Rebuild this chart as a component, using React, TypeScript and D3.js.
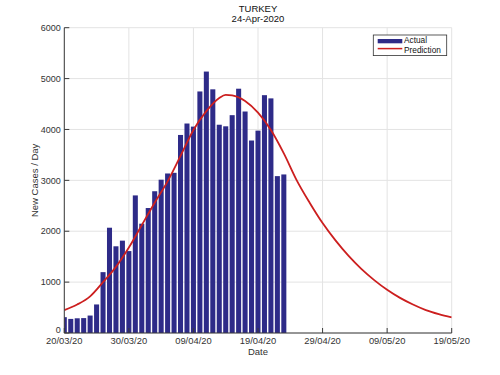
import React from "react";
import * as d3 from "d3";

const startDate = new Date(2020, 2, 20);
const actualValues = [
  311, 277, 289, 293, 343, 561, 1196, 2069, 1704, 1815, 1610, 2704, 2148, 2456,
  2786, 3013, 3135, 3148, 3892, 4117, 4056, 4747, 5138, 4789, 4093, 4062, 4281,
  4801, 4353, 3783, 3977, 4674, 4611, 3083, 3116,
];
const predictionDays = [0, 2, 4, 6, 8, 10, 12, 14, 16, 18, 20, 22, 24, 25, 26, 28, 30, 32, 34, 36, 38, 40, 42, 44, 46, 48, 50, 52, 54, 56, 58, 60];
const predictionValues = [450, 560, 720, 1000, 1300, 1680, 2120, 2560, 2980, 3480, 3990, 4360, 4620, 4680, 4670, 4560, 4330, 3990, 3530, 3000, 2560, 2160, 1820, 1520, 1260, 1040, 850, 690, 560, 450, 370, 305];
const xTickLabels = ["20/03/20", "30/03/20", "09/04/20", "19/04/20", "29/04/20", "09/05/20", "19/05/20"];
const yTicks = [0, 1000, 2000, 3000, 4000, 5000, 6000];

const dayMs = 86400000;
const addDays = (n: number) => new Date(startDate.getTime() + n * dayMs);

export default function App() {
  const W = 500, H = 375;
  const left = 64.3, right = 451.7, top = 27.7, bottom = 333;
  const x = d3.scaleTime().domain([addDays(0), addDays(60)]).range([left, right]);
  const y = d3.scaleLinear().domain([0, 6000]).range([bottom, top]);
  const dayW = x(addDays(1)) - x(addDays(0));
  const barW = dayW * 0.78;
  const font = "'Liberation Sans', Arial, sans-serif";
  const line = d3
    .line<number>()
    .x((_, i) => x(addDays(predictionDays[i])))
    .y((v) => y(v))
    .curve(d3.curveMonotoneX);
  const xTicks = xTickLabels.map((_, i) => addDays(i * 10));
  const cx = (left + right) / 2;

  return (
    <svg width={W} height={H} style={{ position: "absolute", left: 0, top: 0, background: "#fff" }} fontFamily={font}>
      <rect x={0} y={0} width={W} height={H} fill="#fff" />
      {xTicks.map((d, i) => (
        <line key={"gx" + i} x1={x(d)} x2={x(d)} y1={top} y2={bottom} stroke="#e3e3e3" strokeWidth={1} />
      ))}
      {yTicks.map((v) => (
        <line key={"gy" + v} x1={left} x2={right} y1={y(v)} y2={y(v)} stroke="#e3e3e3" strokeWidth={1} />
      ))}
      <defs>
        <clipPath id="plot">
          <rect x={left} y={top} width={right - left} height={bottom - top} />
        </clipPath>
      </defs>
      <g clipPath="url(#plot)">
        {actualValues.map((v, i) => (
          <rect
            key={"b" + i}
            x={x(addDays(i)) - barW / 2}
            y={y(v)}
            width={barW}
            height={bottom - y(v)}
            fill="#2E2B88"
          />
        ))}
        <path d={line(predictionValues) || ""} fill="none" stroke="#CC1F1F" strokeWidth={1.8} />
      </g>
      <line x1={left} x2={left} y1={top} y2={bottom} stroke="#3a3a3a" strokeWidth={1} />
      <line x1={left} x2={right} y1={bottom} y2={bottom} stroke="#3a3a3a" strokeWidth={1} />
      {yTicks.map((v) => (
        <g key={"yt" + v}>
          <line x1={left} x2={left + 5} y1={y(v)} y2={y(v)} stroke="#3a3a3a" />
          <text x={left - 3.5} y={v === 0 ? bottom - 0.5 : y(v) + 3.2} textAnchor="end" fontSize={9} fill="#333">
            {v}
          </text>
        </g>
      ))}
      {xTicks.map((d, i) => (
        <g key={"xt" + i}>
          <line x1={x(d)} x2={x(d)} y1={bottom} y2={bottom - 5} stroke="#3a3a3a" />
          <text x={x(d)} y={bottom + 10.5} textAnchor="middle" fontSize={9.4} fill="#333">
            {xTickLabels[i]}
          </text>
        </g>
      ))}
      <text x={cx} y={354.5} textAnchor="middle" fontSize={9.5} fill="#333">
        Date
      </text>
      <text
        transform={`translate(38,${(top + bottom) / 2}) rotate(-90)`}
        textAnchor="middle"
        fontSize={9.5}
        fill="#333"
      >
        New Cases / Day
      </text>
      <text x={cx} y={11.8} textAnchor="middle" fontSize={9.5} fill="#111">
        TURKEY
      </text>
      <text x={cx} y={21.5} textAnchor="middle" fontSize={9.5} fill="#111">
        24-Apr-2020
      </text>
      <g>
        <rect x={373.3} y={35} width={73.4} height={20.6} fill="#fff" stroke="#333" strokeWidth={0.8} />
        <rect x={377.7} y={39} width={24.6} height={4.3} fill="#2E2B88" />
        <line x1={377.7} x2={402.3} y1={48.6} y2={48.6} stroke="#CC1F1F" strokeWidth={1.5} />
        <text x={404} y={42.9} fontSize={8.3} fill="#111">Actual</text>
        <text x={404} y={52.5} fontSize={8.3} fill="#111">Prediction</text>
      </g>
    </svg>
  );
}
